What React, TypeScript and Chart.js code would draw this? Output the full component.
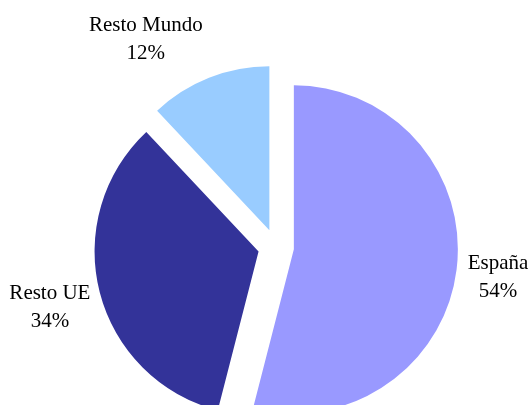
import React, { useEffect, useRef } from "react";
import { Chart, registerables } from "chart.js";

Chart.register(...registerables);

const categories = ["España", "Resto UE", "Resto Mundo"];
const values = [54, 34, 12];
const percentLabels = ["54%", "34%", "12%"];
const colors = ["#9999FF", "#333399", "#99CCFF"];

const EXPLODE = 18;
const RADIUS = 164;
const FONT = '21px "Liberation Serif", "Times New Roman", serif';
const LINE_H = 28;
const CAP_H = 14;
const LABEL_GAP = 9;
const LABEL_NUDGE: number[][] = [
  [0, 1],
  [2, 0],
  [-45, 6],
];

const explodePlugin = {
  id: "explodeSlices",
  beforeDatasetDraw(chart: any, args: any) {
    const ctx = chart.ctx;
    args.meta.data.forEach((arc: any) => {
      const mid = (arc.startAngle + arc.endAngle) / 2;
      ctx.save();
      ctx.translate(Math.cos(mid) * EXPLODE, Math.sin(mid) * EXPLODE);
      arc.draw(ctx);
      ctx.restore();
    });
    return false;
  },
};

const labelPlugin = {
  id: "outsideLabels",
  afterDraw(chart: any) {
    const ctx = chart.ctx;
    const meta = chart.getDatasetMeta(0);
    ctx.save();
    ctx.font = FONT;
    ctx.fillStyle = "#000000";
    ctx.textAlign = "center";
    ctx.textBaseline = "alphabetic";
    meta.data.forEach((arc: any, i: number) => {
      const mid = (arc.startAngle + arc.endAngle) / 2;
      const dx = Math.cos(mid);
      const dy = Math.sin(mid);
      const lines = [categories[i], percentLabels[i]];
      const w = Math.max(...lines.map((l) => ctx.measureText(l).width));
      const h = LINE_H + CAP_H;
      const ext = Math.abs(dx) * (w / 2) + Math.abs(dy) * (h / 2);
      const dist = arc.outerRadius + EXPLODE + LABEL_GAP + ext;
      const nudge = LABEL_NUDGE[i] || [0, 0];
      const cx = arc.x + dx * dist + nudge[0];
      const cy = arc.y + dy * dist + nudge[1];
      ctx.fillText(lines[0], cx, cy - CAP_H / 2);
      ctx.fillText(lines[1], cx, cy - CAP_H / 2 + LINE_H);
    });
    ctx.restore();
  },
};

export default function App() {
  const canvasRef = useRef<HTMLCanvasElement | null>(null);

  useEffect(() => {
    const canvas = canvasRef.current;
    if (!canvas) return;
    const chart = new Chart(canvas, {
      type: "pie",
      data: {
        labels: categories,
        datasets: [
          {
            data: values,
            backgroundColor: colors,
            borderWidth: 0,
            radius: RADIUS,
          } as any,
        ],
      },
      options: {
        animation: false,
        responsive: false,
        devicePixelRatio: 1,
        layout: { padding: { left: 22, right: 0, top: 89, bottom: 0 } },
        plugins: {
          legend: { display: false },
          tooltip: { enabled: false },
        },
        events: [],
      },
      plugins: [explodePlugin, labelPlugin],
    });
    return () => chart.destroy();
  }, []);

  return (
    <div
      style={{
        position: "absolute",
        left: 0,
        top: 0,
        width: 530,
        height: 405,
        background: "#ffffff",
      }}
    >
      <canvas ref={canvasRef} width={530} height={405} />
    </div>
  );
}
